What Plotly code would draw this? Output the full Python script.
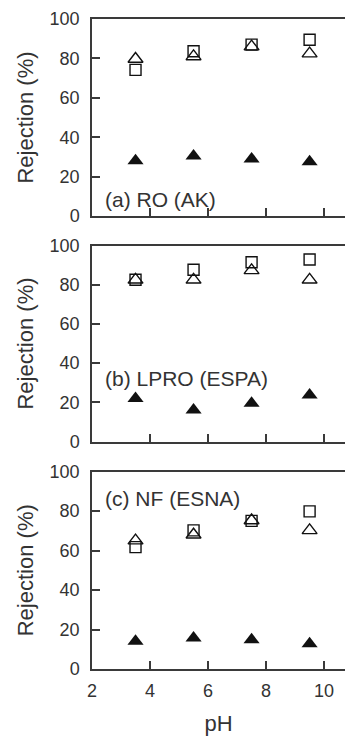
import plotly.graph_objects as go
from plotly.subplots import make_subplots

ph = [3.5, 5.5, 7.5, 9.5]

panel_labels = ["(a) RO (AK)", "(b) LPRO (ESPA)", "(c) NF (ESNA)"]

# open squares
sq_a = [74.2, 83.6, 87.0, 89.5]
sq_b = [82.5, 87.6, 91.5, 92.9]
sq_c = [61.7, 70.2, 75.0, 79.8]

# open triangles
ot_a = [79.7, 81.0, 86.0, 82.4]
ot_b = [82.5, 82.5, 87.3, 82.5]
ot_c = [65.0, 68.0, 75.2, 70.2]

# filled triangles
ft_a = [28.0, 30.5, 29.0, 27.6]
ft_b = [22.0, 16.1, 19.5, 23.7]
ft_c = [14.0, 15.7, 14.8, 12.8]

x_ticks = [2, 4, 6, 8, 10]
y_ticks = [0, 20, 40, 60, 80, 100]

panels = [(sq_a, ot_a, ft_a), (sq_b, ot_b, ft_b), (sq_c, ot_c, ft_c)]

FONT = "Liberation Sans, Arial, Helvetica, sans-serif"
TXT = "#333333"
LINE = "#3a3a3a"

fig = make_subplots(rows=3, cols=1, shared_xaxes=False)

for i, (sq, ot, ft) in enumerate(panels, start=1):
    fig.add_trace(go.Scatter(x=ph, y=ft, mode="markers",
                             marker=dict(symbol="triangle-up", size=14, color="#111111",
                                         line=dict(width=0))), row=i, col=1)
    fig.add_trace(go.Scatter(x=ph, y=sq, mode="markers",
                             marker=dict(symbol="square-open", size=11, color="#111111",
                                         line=dict(width=1.4))), row=i, col=1)
    fig.add_trace(go.Scatter(x=ph, y=ot, mode="markers",
                             marker=dict(symbol="triangle-up-open", size=13, color="#111111",
                                         line=dict(width=1.4))), row=i, col=1)

domains = [(0.6969, 1.0), (0.35, 0.6515), (0.0, 0.3038)]
ann_y = [0.086, 0.324, 0.861]

for i in range(1, 4):
    xa = "xaxis" if i == 1 else f"xaxis{i}"
    ya = "yaxis" if i == 1 else f"yaxis{i}"
    fig.layout[xa].update(
        range=[2, 10.72], domain=[0, 1],
        tickvals=x_ticks, showticklabels=(i == 3),
        ticks="inside", ticklen=8, tickwidth=1.5, tickcolor=LINE,
        ticklabelstandoff=5,
        showline=True, linecolor=LINE, linewidth=1.5, mirror=True,
        showgrid=False, zeroline=False,
        tickfont=dict(family=FONT, size=18, color=TXT),
    )
    if i == 3:
        fig.layout[xa].update(title=dict(text="pH", standoff=24,
                                         font=dict(family=FONT, size=22, color=TXT)))
    fig.layout[ya].update(
        range=[0, 100], domain=list(domains[i - 1]),
        tickvals=y_ticks,
        ticks="inside", ticklen=8, tickwidth=1.5, tickcolor=LINE,
        ticklabelstandoff=7,
        showline=True, linecolor=LINE, linewidth=1.5, mirror=False,
        showgrid=False, zeroline=False,
        tickfont=dict(family=FONT, size=18, color=TXT),
        title=dict(text="Rejection (%)", standoff=10,
                   font=dict(family=FONT, size=22, color=TXT)),
    )
    xref = "x domain" if i == 1 else f"x{i} domain"
    yref = "y domain" if i == 1 else f"y{i} domain"
    fig.add_annotation(text=panel_labels[i - 1], xref=xref, yref=yref,
                       x=0.043, y=ann_y[i - 1], xanchor="left", yanchor="middle",
                       showarrow=False, font=dict(family=FONT, size=21, color=TXT))

fig.update_layout(
    width=345, height=736,
    margin=dict(l=92, r=0, t=19, b=67, autoexpand=False),
    paper_bgcolor="white", plot_bgcolor="white",
    showlegend=False,
)

# remove the default page margin so the figure fills the window exactly
fig.write_html(
    "out.html",
    config={"displayModeBar": False},
    post_script="document.body.style.margin='0';document.body.style.overflow='hidden';",
)
